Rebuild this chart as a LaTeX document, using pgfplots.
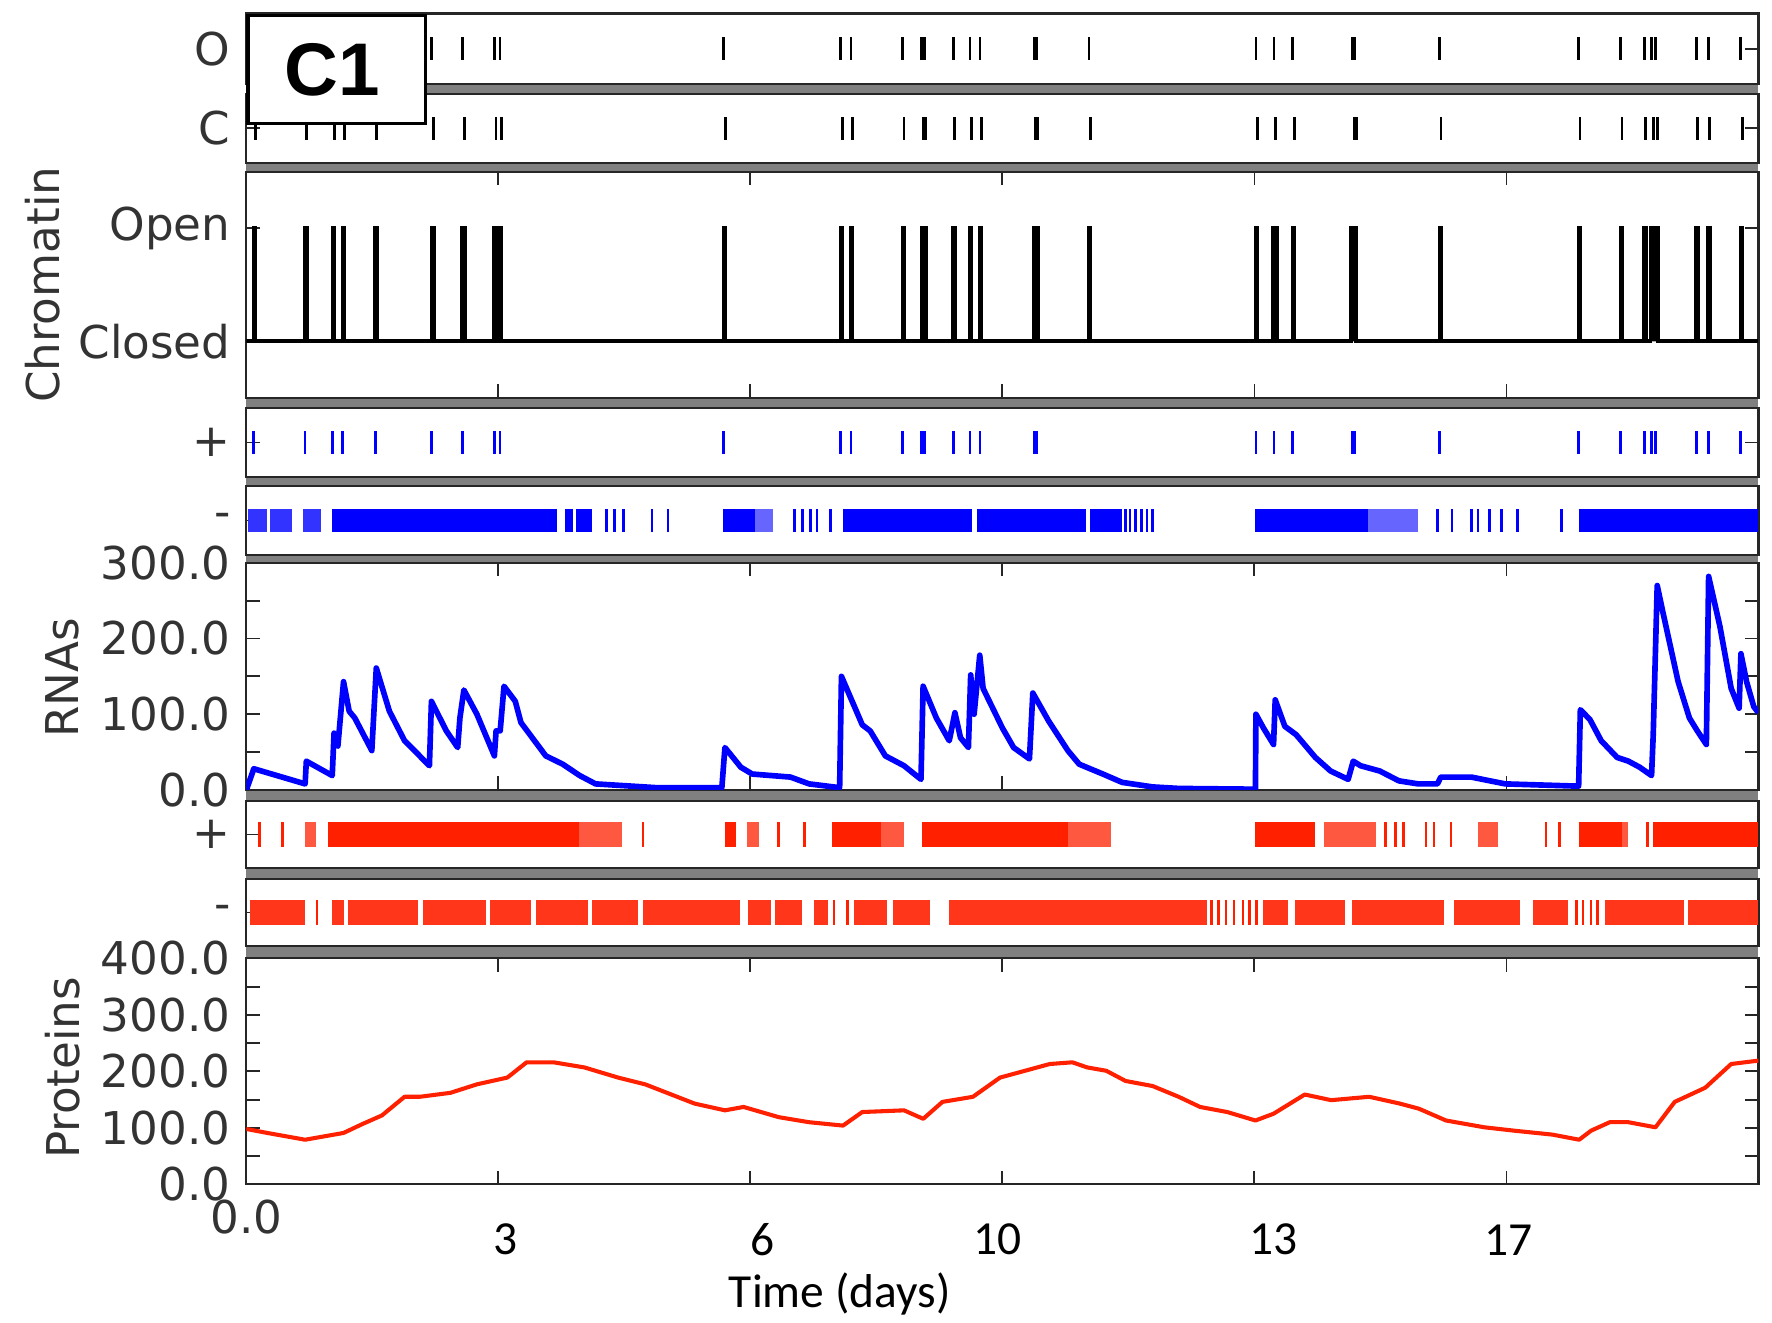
\documentclass[border=0pt]{standalone}
\usepackage{fontspec}
\setmainfont{DejaVu Sans}
\newfontfamily\carlito{Carlito}
\newfontfamily\lsans{Liberation Sans}
\usepackage{pgfplots}
\pgfplotsset{compat=1.18}
\definecolor{myblue}{RGB}{0,0,255}
\definecolor{myred}{RGB}{255,32,0}
\definecolor{bandgray}{RGB}{128,128,128}
\pgfplotsset{
  panel/.style={scale only axis, width=334.5pt, xmin=0, xmax=30000, anchor=north west,
    axis background/.style={fill=white},
    axis line style={black!85, line width=0.5pt},
    tick style={black!85, line width=0.4pt},
    major tick length=3pt, minor tick length=3pt,
    tick align=inside,
    scaled x ticks=false, scaled y ticks=false,
    tick label style={font=\fontsize{10}{12}\selectfont, text=black!80},
    /pgf/number format/assume math mode=true,
    unbounded coords=jump, clip=true},
  ev/.style={panel, height=#1, ymin=-1, ymax=1, ytick={0}, xtick=\empty},
  span/.style={no markers, line width=5pt, #1},
  rspan/.style={no markers, line width=5.5pt, #1},
  evmarks/.style={only marks, mark=|, mark size=2.5pt, mark options={line width=0.6pt}, #1},
}
\begin{document}
\begin{tikzpicture}
\path[use as bounding box] (0,0) rectangle (392pt,-292.5pt);
\fill[bandgray] (54.5pt,-3pt) rectangle (389pt,-262pt);

% O panel
\begin{axis}[ev=15.5pt, at={(54.5pt,-3pt)}, yticklabels={O}]
\addplot[evmarks=black] coordinates {(148,0)(1166,0)(1715,0)(1906,0)(2556,0)(3677,0)(4282,0)(4921,0)(5033,0)(9473,0)(11793,0)(11995,0)(13019,0)(13400,0)(13460,0)(14024,0)(14358,0)(14553,0)(15630,0)(15680,0)(16717,0)(20030,0)(20387,0)(20761,0)(21945,0)(21990,0)(23673,0)(26429,0)(27263,0)(27734,0)(27884,0)(27958,0)(28765,0)(29005,0)(29649,0)};
\end{axis}

% C panel
\begin{axis}[ev=15.25pt, at={(54.5pt,-20.75pt)}, yticklabels={C}]
\addplot[evmarks=black] coordinates {(178,0)(1196,0)(1745,0)(1946,0)(2586,0)(3717,0)(4332,0)(4951,0)(5063,0)(9503,0)(11823,0)(12025,0)(13049,0)(13430,0)(13480,0)(14054,0)(14388,0)(14583,0)(15660,0)(15700,0)(16747,0)(20060,0)(20420,0)(20791,0)(21975,0)(22020,0)(23703,0)(26459,0)(27293,0)(27764,0)(27914,0)(28000,0)(28795,0)(29035,0)(29679,0)};
\end{axis}

% Chromatin panel
\begin{axis}[panel, height=50pt, at={(54.5pt,-38pt)}, ymin=-0.5, ymax=1.5,
  ytick={0,1}, yticklabels={Closed,Open}, xtick={5000,10000,15000,20000,25000}, xticklabels={}]
\addplot[black, line width=0.85pt, no markers] coordinates {
(0,0)
(148,0)(148,1)(178,1)(178,0)
(1166,0)(1166,1)(1196,1)(1196,0)
(1715,0)(1715,1)(1745,1)(1745,0)
(1906,0)(1906,1)(1946,1)(1946,0)
(2556,0)(2556,1)(2586,1)(2586,0)
(3677,0)(3677,1)(3717,1)(3717,0)
(4282,0)(4282,1)(4332,1)(4332,0)
(4921,0)(4921,1)(4951,1)(4951,0)
(5033,0)(5033,1)(5063,1)(5063,0)
(9473,0)(9473,1)(9503,1)(9503,0)
(11793,0)(11793,1)(11823,1)(11823,0)
(11995,0)(11995,1)(12025,1)(12025,0)
(13019,0)(13019,1)(13049,1)(13049,0)
(13400,0)(13400,1)(13440,1)(13440,0)(13440,1)(13480,1)(13480,0)
(14024,0)(14024,1)(14054,1)(14054,0)
(14358,0)(14358,1)(14388,1)(14388,0)
(14553,0)(14553,1)(14583,1)(14583,0)
(15630,0)(15630,1)(15665,1)(15665,0)(15665,1)(15700,1)(15700,0)
(16717,0)(16717,1)(16747,1)(16747,0)
(20030,0)(20030,1)(20060,1)(20060,0)
(20370,0)(20370,1)(20405,1)(20405,0)(20405,1)(20440,1)(20440,0)
(20761,0)(20761,1)(20791,1)(20791,0)
(21920,0)(21920,1)(21955,1)(21955,0)(21955,1)(21990,1)(21990,0)(21990,1)(22020,1)(22020,0)
(23673,0)(23673,1)(23703,1)(23703,0)
(26429,0)(26429,1)(26459,1)(26459,0)
(27263,0)(27263,1)(27293,1)(27293,0)
(27734,0)(27734,1)(27764,1)(27764,0)
(27860,0)(27860,1)(27895,1)(27895,0)(27895,1)(27930,1)(27930,0)(27930,1)(27965,1)(27965,0)(27965,1)(28000,1)(28000,0)
(28765,0)(28765,1)(28795,1)(28795,0)
(29005,0)(29005,1)(29035,1)(29035,0)
(29649,0)(29649,1)(29679,1)(29679,0)
(30000,0)};
\end{axis}

% blue + panel
\begin{axis}[ev=15.25pt, at={(54.5pt,-90.25pt)}, yticklabels={+}]
\addplot[evmarks=myblue] coordinates {(148,0)(1166,0)(1715,0)(1906,0)(2556,0)(3677,0)(4282,0)(4921,0)(5033,0)(9473,0)(11793,0)(11995,0)(13019,0)(13400,0)(13460,0)(14024,0)(14358,0)(14553,0)(15630,0)(15680,0)(20030,0)(20387,0)(20761,0)(21945,0)(21990,0)(23673,0)(26429,0)(27263,0)(27734,0)(27884,0)(27958,0)(28765,0)(29005,0)(29649,0)};
\end{axis}

% blue - panel
\begin{axis}[ev=15.25pt, at={(54.5pt,-107.5pt)}, yticklabels={-}]
\addplot[span=myblue!80] coordinates {(36,0)(415,0)(415,nan)(470,0)(900,0)(900,nan)(1120,0)(1480,0)};
\addplot[span=myblue] coordinates {(1704,0)(6166,0)(6166,nan)(6322,0)(6479,0)(6479,nan)(6547,0)(6861,0)(6861,nan)(9461,0)(10089,0)(10089,nan)(11838,0)(14400,0)(14400,nan)(14500,0)(16660,0)(16660,nan)(16740,0)(17376,0)(17376,nan)(20021,0)(22263,0)(22263,nan)(26433,0)(30000,0)};
\addplot[span=myblue!60] coordinates {(10089,0)(10448,0)(10448,nan)(22263,0)(23250,0)};
\addplot[evmarks=myblue] coordinates {(7152,0)(7309,0)(7489,0)(8049,0)(8363,0)(10874,0)(11031,0)(11188,0)(11322,0)(11591,0)(17443,0)(17532,0)(17645,0)(17757,0)(17869,0)(17981,0)(23631,0)(23922,0)(24303,0)(24438,0)(24662,0)(24908,0)(25223,0)(26097,0)};
\end{axis}

% RNAs panel
\begin{axis}[panel, height=50.25pt, at={(54.5pt,-124.5pt)}, ymin=0, ymax=300,
  ytick={0,100,200,300}, yticklabels={0.0,100.0,200.0,300.0}, minor ytick={50,150,250},
  xtick={5000,10000,15000,20000,25000}, xticklabels={}]
\addplot[myblue, line width=1.25pt, no markers, line join=round] coordinates {
(0,0)(148,28)(1166,8)(1190,38)(1704,19)(1740,75)(1816,58)(1928,143)(2040,104)(2152,95)(2489,52)(2578,161)(2838,104)(3139,65)(3632,32)(3672,117)(3968,78)(4193,56)(4237,95)(4316,132)(4574,100)(4921,45)(4955,78)(5036,78)(5112,137)(5336,117)(5448,89)(5717,65)(5941,45)(6278,34)(6614,19)(6928,8)(8138,3)(9434,3)(9495,56)(9811,30)(10037,21)(10795,17)(11165,8)(11771,3)(11807,150)(12220,86)(12377,78)(12678,45)(13048,32)(13385,14)(13427,137)(13690,95)(13946,65)(14058,102)(14169,69)(14326,56)(14371,152)(14439,100)(14551,178)(14618,134)(14999,82)(15223,56)(15537,41)(15604,128)(15918,91)(16299,52)(16524,34)(16994,21)(17376,10)(17981,4)(18497,2)(20021,1)(20030,100)(20178,82)(20380,60)(20413,119)(20604,84)(20828,73)(21209,43)(21512,25)(21860,14)(21961,38)(22106,32)(22487,25)(22868,12)(23250,8)(23631,8)(23698,17)(24303,17)(24976,8)(26433,5)(26467,106)(26657,93)(26881,65)(27196,43)(27420,38)(27644,30)(27880,19)(27913,73)(27992,270)(28104,235)(28407,143)(28631,95)(28788,78)(28967,60)(29012,282)(29236,216)(29460,134)(29617,108)(29653,180)(29765,143)(29908,110)(29998,102)};
\end{axis}

% red + panel
\begin{axis}[ev=14.75pt, at={(54.5pt,-177.25pt)}, yticklabels={+}]
\addplot[rspan=myred] coordinates {(1625,0)(6600,0)(6600,nan)(9495,0)(9708,0)(9708,nan)(11614,0)(12600,0)(12600,nan)(13407,0)(16299,0)(16299,nan)(20021,0)(21209,0)(21209,nan)(26433,0)(27300,0)(27300,nan)(27913,0)(30000,0)};
\addplot[rspan=myred!75] coordinates {(1166,0)(1390,0)(1390,nan)(6600,0)(7450,0)(7450,nan)(9932,0)(10179,0)(10179,nan)(12600,0)(13048,0)(13048,nan)(16299,0)(17151,0)(17151,nan)(21389,0)(22420,0)(22420,nan)(24438,0)(24841,0)(24841,nan)(27300,0)(27420,0)};
\addplot[evmarks=myred, mark size=2.75pt] coordinates {(262,0)(717,0)(7870,0)(10560,0)(11076,0)(22600,0)(22800,0)(22958,0)(23406,0)(23563,0)(23900,0)(25783,0)(26052,0)(27801,0)};
\end{axis}

% red - panel
\begin{axis}[ev=14.75pt, at={(54.5pt,-194.5pt)}, yticklabels={-}]
\addplot[rspan=myred!90] coordinates {(67,0)(1166,0)(1166,nan)(1704,0)(1928,0)(1928,nan)(2018,0)(3408,0)(3408,nan)(3498,0)(4753,0)(4753,nan)(4843,0)(5650,0)(5650,nan)(5740,0)(6771,0)(6771,nan)(6861,0)(7780,0)(7780,nan)(7870,0)(9798,0)(9798,nan)(9955,0)(10403,0)(10403,nan)(10493,0)(11031,0)(11031,nan)(11255,0)(11546,0)(11546,nan)(12063,0)(12712,0)(12712,nan)(12824,0)(13564,0)(13564,nan)(13946,0)(19057,0)(19057,nan)(20178,0)(20671,0)(20671,nan)(20806,0)(21792,0)(21792,nan)(21927,0)(23765,0)(23765,nan)(23967,0)(25267,0)(25267,nan)(25536,0)(26231,0)(26231,nan)(26949,0)(28519,0)(28519,nan)(28609,0)(30000,0)};
\addplot[evmarks=myred, mark size=2.75pt] coordinates {(1400,0)(11660,0)(11930,0)(19147,0)(19281,0)(19438,0)(19595,0)(19775,0)(19909,0)(20044,0)(26388,0)(26522,0)(26680,0)(26814,0)};
\end{axis}

% Proteins panel
\begin{axis}[panel, height=50pt, at={(54.5pt,-212pt)}, ymin=0, ymax=400,
  ytick={0,100,200,300,400}, yticklabels={0.0,100.0,200.0,300.0,400.0}, minor ytick={50,150,250,350},
  xtick={0,5000,10000,15000,20000,25000}, xticklabels={0.0,,,,,}]
\addplot[myred, line width=0.9pt, no markers, line join=round] coordinates {
(0,98)(415,91)(1166,79)(1928,91)(2309,107)(2690,122)(3139,155)(3442,155)(4049,162)(4574,177)(5179,189)(5560,216)(6098,216)(6704,207)(7376,189)(7914,177)(8892,143)(9495,131)(9865,137)(10560,119)(11165,110)(11838,104)(12220,128)(13048,131)(13430,116)(13811,146)(14416,155)(14954,189)(15324,198)(15941,213)(16389,216)(16680,207)(17062,201)(17443,183)(17981,174)(18497,155)(18922,137)(19461,128)(20021,113)(20380,125)(20999,159)(21523,149)(22277,155)(22882,143)(23261,134)(23803,113)(24561,101)(25155,95)(25917,88)(26444,79)(26680,95)(27050,110)(27420,110)(27958,101)(28340,146)(28945,171)(29460,213)(30000,219)};
\end{axis}

% C1 box
\node[draw=black, line width=0.7pt, fill=white, anchor=north west, minimum width=39.25pt, minimum height=24pt, inner sep=0pt] at (54.5pt,-3pt) {};
\node[font=\lsans\bfseries\fontsize{16.5}{18}\selectfont] at (73.5pt,-15.5pt) {C1};

% axis titles
\node[rotate=90, font=\fontsize{10}{12}\selectfont, text=black!80] at (9.5pt,-63pt) {Chromatin};
\node[rotate=90, font=\fontsize{10}{12}\selectfont, text=black!80] at (13.75pt,-150pt) {RNAs};
\node[rotate=90, font=\fontsize{10}{12}\selectfont, text=black!80] at (13.75pt,-236.25pt) {Proteins};

% day labels
\node[font=\carlito\fontsize{10.5}{12}\selectfont] at (111.75pt,-274.25pt) {3};
\node[font=\carlito\fontsize{10.5}{12}\selectfont] at (168.75pt,-274.25pt) {6};
\node[font=\carlito\fontsize{10.5}{12}\selectfont] at (220.75pt,-274.25pt) {10};
\node[font=\carlito\fontsize{10.5}{12}\selectfont] at (281.75pt,-274.25pt) {13};
\node[font=\carlito\fontsize{10.5}{12}\selectfont] at (333.75pt,-274.25pt) {17};
\node[font=\carlito\fontsize{10.5}{12}\selectfont] at (185.75pt,-286.25pt) {Time (days)};
\end{tikzpicture}
\end{document}
